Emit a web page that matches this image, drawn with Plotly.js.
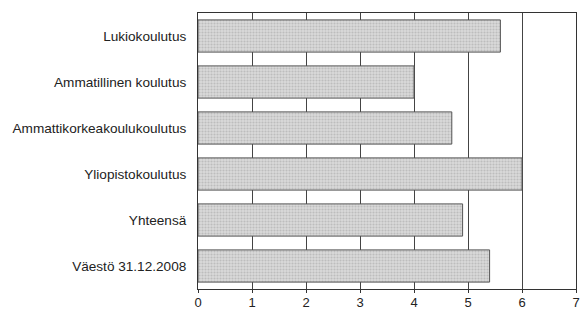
<!DOCTYPE html>
<html><head><meta charset="utf-8">
<script src="https://cdn.plot.ly/plotly-3.0.1.min.js"></script>
<style>html,body{margin:0;padding:0;background:#fff}#c{width:583px;height:310px}</style>
</head><body><div id="c"></div>
<script>
const categories = ["Lukiokoulutus","Ammatillinen koulutus","Ammattikorkeakoulukoulutus","Yliopistokoulutus","Yhteensä","Väestö 31.12.2008"];
const values = [5.6, 4.0, 4.7, 6.0, 4.9, 5.4];
const tickVals = [0,1,2,3,4,5,6,7];

const font = {family: "Liberation Sans Narrow, Arial Narrow, Liberation Sans, sans-serif", size: 13.6, color: "#222"};
const xfont = {family: "Liberation Sans Narrow, Arial Narrow, Liberation Sans, sans-serif", size: 13, color: "#222"};
Plotly.newPlot("c", [{
  type: "bar", orientation: "h",
  x: values, y: categories,
  width: 0.7,
  marker: {color: "#d2d2d2", line: {color: "#555", width: 1},
           pattern: {shape: ".", fgcolor: "#bdbdbd", bgcolor: "#dadada", size: 3, solidity: 0.4}},
  hoverinfo: "skip"
}], {
  width: 583, height: 310,
  margin: {l: 198, r: 7, t: 13, b: 21},
  paper_bgcolor: "#fff", plot_bgcolor: "#fff",
  showlegend: false,
  font: font,
  xaxis: {range: [0, 7], tickvals: tickVals, ticktext: tickVals.map(String),
          showgrid: true, gridcolor: "#444", gridwidth: 1,
          showline: true, linecolor: "#333", linewidth: 1, mirror: true,
          ticks: "outside", ticklen: 3, tickcolor: "#333", zeroline: false,
          ticklabelstandoff: -2, tickfont: xfont},
  yaxis: {autorange: "reversed", showline: true, linecolor: "#333", linewidth: 1, mirror: true,
          ticks: "", ticklabelstandoff: 8, showgrid: false, tickfont: font},
}, {staticPlot: true, displayModeBar: false});
</script></body></html>
